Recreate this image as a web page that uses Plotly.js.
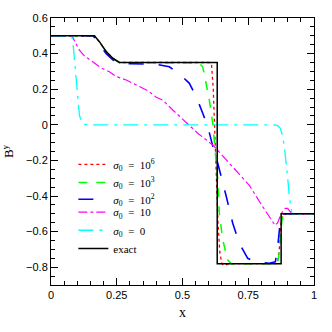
<!DOCTYPE html>
<html>
<head>
<meta charset="utf-8">
<script src="https://cdn.plot.ly/plotly-3.0.1.min.js"></script>
<style>
  html, body { margin: 0; padding: 0; background: #fff; }
  #graph { width: 332px; height: 332px; }
</style>
</head>
<body>
<div id="graph"></div>
<script>
// B^y profiles

const xRed = [0, 0.165, 0.184, 0.21, 0.235, 0.26, 0.6, 0.61, 0.617, 0.622, 0.628, 0.635, 0.642, 0.65, 0.656, 0.665, 0.68, 0.86, 0.868, 0.875, 0.882, 1];
const yRed = [0.5, 0.5, 0.467, 0.411, 0.374, 0.35, 0.35, 0.345, 0.2, 0.0, -0.3, -0.55, -0.72, -0.78, -0.79, -0.785, -0.78, -0.78, -0.7, -0.55, -0.5, -0.5];

const xGreen = [0, 0.165, 0.184, 0.21, 0.235, 0.26, 0.55, 0.564, 0.577, 0.59, 0.602, 0.615, 0.634, 0.64, 0.653, 0.672, 0.685, 0.86, 0.866, 0.872, 0.878, 0.885, 1];
const yGreen = [0.5, 0.5, 0.465, 0.41, 0.372, 0.349, 0.349, 0.345, 0.326, 0.233, 0.139, 0.008, -0.31, -0.497, -0.647, -0.76, -0.78, -0.78, -0.74, -0.64, -0.54, -0.5, -0.5];

const xBlue = [0, 0.16, 0.175, 0.19, 0.21, 0.235, 0.26, 0.3, 0.4, 0.45, 0.5, 0.526, 0.552, 0.577, 0.596, 0.615, 0.634, 0.666, 0.691, 0.716, 0.748, 0.78, 0.83, 0.853, 0.862, 0.871, 0.877, 0.885, 1];
const yBlue = [0.5, 0.5, 0.47, 0.44, 0.4, 0.365, 0.345, 0.343, 0.34, 0.326, 0.27, 0.233, 0.158, 0.065, -0.01, -0.12, -0.216, -0.4, -0.553, -0.666, -0.75, -0.772, -0.778, -0.77, -0.685, -0.553, -0.507, -0.5, -0.5];

const xMag = [0, 0.08, 0.095, 0.108, 0.125, 0.159, 0.19, 0.222, 0.25, 0.286, 0.336, 0.37, 0.4, 0.425, 0.463, 0.495, 0.526, 0.56, 0.615, 0.678, 0.754, 0.805, 0.835, 0.852, 0.862, 0.875, 0.89, 0.9, 0.913, 0.925, 1];
const yMag = [0.5, 0.5, 0.455, 0.42, 0.39, 0.355, 0.32, 0.298, 0.27, 0.252, 0.214, 0.19, 0.155, 0.139, 0.083, 0.04, 0.0, -0.05, -0.113, -0.216, -0.34, -0.46, -0.525, -0.565, -0.55, -0.5, -0.47, -0.47, -0.495, -0.5, -0.5];

const xCyan = [0, 0.078, 0.083, 0.089, 0.098, 0.108, 0.115, 0.121, 0.13, 0.14, 0.85, 0.862, 0.872, 0.88, 0.887, 0.894, 0.9, 0.906, 0.912, 0.916, 1];
const yCyan = [0.5, 0.5, 0.47, 0.374, 0.186, 0.055, 0.02, 0.008, 0.002, 0, 0, -0.005, -0.02, -0.06, -0.12, -0.2, -0.3, -0.4, -0.48, -0.5, -0.5];

const xExact = [0, 0.165, 0.184, 0.2, 0.21, 0.235, 0.248, 0.26, 0.632, 0.632, 0.875, 0.875, 1];
const yExact = [0.5, 0.5, 0.467, 0.43, 0.411, 0.374, 0.36, 0.35, 0.35, -0.78, -0.78, -0.5, -0.5];

const names = [
  '<i>σ</i><sub>0</sub>  =  10<sup>6</sup>',
  '<i>σ</i><sub>0</sub>  =  10<sup>3</sup>',
  '<i>σ</i><sub>0</sub>  =  10<sup>2</sup>',
  '<i>σ</i><sub>0</sub>  =  10',
  '<i>σ</i><sub>0</sub>  =  0',
  'exact'
];

// one small legend per entry so the rows sit as close as in the original
const legendY = [0.452, 0.384, 0.321, 0.273, 0.205, 0.137];
const legendIds = ['legend', 'legend2', 'legend3', 'legend4', 'legend5', 'legend6'];

function tr(x, y, i, color, dash, width) {
  return { x: x, y: y, name: names[i], legend: legendIds[i], mode: 'lines', type: 'scatter',
           line: { color: color, dash: dash, width: width } };
}

var data = [
  tr(xRed, yRed, 0, '#ff0000', 'dot', 1.3),
  tr(xGreen, yGreen, 1, '#00ff00', 'dash', 1.5),
  tr(xBlue, yBlue, 2, '#0000ff', 'longdash', 1.6),
  tr(xMag, yMag, 3, '#ff00ff', 'dashdot', 1.2),
  tr(xCyan, yCyan, 4, '#00ffff', 'longdashdot', 1.3),
  tr(xExact, yExact, 5, '#000000', 'solid', 1.5)
];

var axisCommon = {
  showline: true, linecolor: '#000', linewidth: 1, mirror: 'allticks',
  ticks: 'inside', ticklen: 7, tickcolor: '#000', tickwidth: 1,
  showgrid: false, zeroline: false,
  tickfont: { family: 'Liberation Sans, Arial, sans-serif', size: 11, color: '#000' }
};

var layout = {
  width: 332, height: 332,
  margin: { l: 51, r: 18, t: 18, b: 47 },
  paper_bgcolor: '#fff', plot_bgcolor: '#fff',
  showlegend: true,
  xaxis: Object.assign({}, axisCommon, {
    range: [0, 1], tickvals: [0, 0.25, 0.5, 0.75, 1],
    ticktext: ['0', '0.25', '0.5', '0.75', '1'],
    minor: { dtick: 0.05, ticks: 'inside', ticklen: 4, tickcolor: '#000' },
    title: { text: 'x', font: { family: 'Liberation Serif, serif', size: 14, color: '#000' }, standoff: 6 }
  }),
  yaxis: Object.assign({}, axisCommon, {
    range: [-0.9, 0.6], dtick: 0.2, tick0: 0,
    minor: { dtick: 0.05, ticks: 'inside', ticklen: 4, tickcolor: '#000' },
    title: { text: 'B<sup>y</sup>', font: { family: 'Liberation Serif, serif', size: 13, color: '#000' }, standoff: 10 }
  })
};

legendIds.forEach(function (id, i) {
  layout[id] = {
    x: 0.085, y: legendY[i], xanchor: 'left', yanchor: 'middle',
    bgcolor: 'rgba(0,0,0,0)', itemwidth: 30,
    font: { family: 'Liberation Serif, Times New Roman, serif', size: 11, color: '#000' }
  };
});

Plotly.newPlot('graph', data, layout, { staticPlot: true });
</script>
</body>
</html>
